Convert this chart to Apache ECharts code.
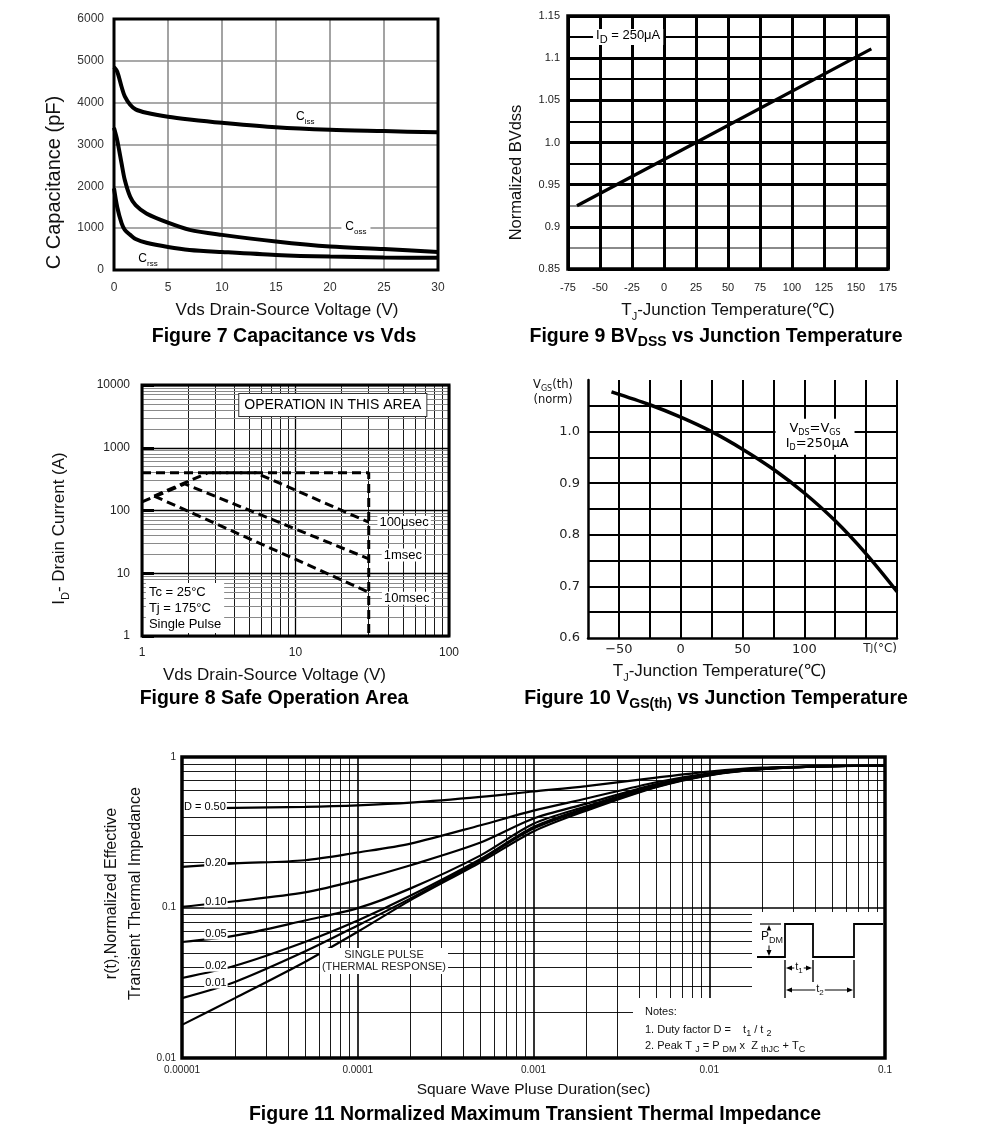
<!DOCTYPE html>
<html><head><meta charset="utf-8">
<script src="https://cdn.jsdelivr.net/npm/echarts@6/dist/echarts.min.js"></script>
<style>html,body{margin:0;padding:0;background:#fff}#c{width:991px;height:1139px}</style>
</head><body><div id="c"></div><script>
// ---------------- DATA ----------------
// Figure 7: Capacitance vs Vds
const capV = [0, 0.3, 0.7, 1, 1.5, 2, 3, 5, 7, 10, 15, 20, 25, 30];
const ciss = [4850, 4740, 4380, 4150, 3950, 3840, 3760, 3665, 3600, 3520, 3410, 3350, 3320, 3290];
const coss = [3400, 3100, 2550, 2150, 1750, 1550, 1350, 1130, 960, 840, 680, 560, 500, 430];
const crss = [1950, 1500, 1120, 960, 840, 740, 650, 550, 480, 430, 360, 320, 300, 290];
// Figure 9: BVdss vs Tj
const bvT = [-68, 25, 162];
const bvN = [0.925, 1.0, 1.111];
// Figure 8: Safe operating area
const soaLimitV = [1, 30, 30];
const soaLimitI = [400, 400, 1];
const soa100usV = [1.2, 2.7, 5.5, 30];
const soa100usI = [170, 400, 400, 65];
const soa1msV = [1, 1.9, 30];
const soa1msI = [137, 265, 17];
const soa10msV = [1.2, 30];
const soa10msI = [170, 5];
// Figure 10: Vgs(th) vs Tj
const vgsT = [-56, -25, 0, 25, 50, 75, 100, 125, 150, 175];
const vgsN = [1.077, 1.052, 1.028, 1.0, 0.966, 0.927, 0.881, 0.827, 0.763, 0.69];
// Figure 11: transient thermal impedance
const ztT = [1e-5, 2e-5, 5e-5, 1e-4, 2e-4, 5e-4, 1e-3, 2e-3, 5e-3, 1e-2, 2e-2, 5e-2, 1e-1];
const zD50 = [0.454, 0.459, 0.466, 0.477, 0.497, 0.543, 0.59, 0.64, 0.73, 0.80, 0.85, 0.87, 0.875];
const zD20 = [0.186, 0.196, 0.206, 0.232, 0.266, 0.352, 0.44, 0.53, 0.68, 0.78, 0.84, 0.87, 0.875];
const zD10 = [0.101, 0.110, 0.126, 0.152, 0.191, 0.27, 0.39, 0.49, 0.66, 0.77, 0.84, 0.87, 0.875];
const zD05 = [0.059, 0.065, 0.082, 0.099, 0.134, 0.222, 0.36, 0.47, 0.65, 0.77, 0.835, 0.87, 0.875];
const zD02 = [0.034, 0.041, 0.059, 0.082, 0.12, 0.21, 0.343, 0.46, 0.64, 0.76, 0.835, 0.87, 0.875];
const zD01 = [0.025, 0.032, 0.051, 0.076, 0.115, 0.206, 0.335, 0.45, 0.635, 0.76, 0.83, 0.87, 0.875];
const zSingle = [0.0166, 0.025, 0.0435, 0.069, 0.112, 0.20, 0.32, 0.44, 0.63, 0.755, 0.83, 0.87, 0.875];

// ---------------- LAYOUT / STYLE ----------------
const FONT = '"Liberation Sans", Arial, Helvetica, sans-serif';
const NARROW = '"Liberation Sans Narrow", "Liberation Sans", Arial, sans-serif';
const DJ = '"DejaVu Sans", sans-serif';
const L7 = {left:114, top:19, width:324, height:251};
const L9 = {left:568, top:16, width:320, height:253};
const L8 = {left:142, top:385, width:307, height:251};
const L10 = {left:588, top:380, width:309, height:258};
const L11 = {left:182, top:757, width:703, height:301};

const zip = (a, b) => a.map((v, i) => [v, b[i]]);
function richL(size, sub, color, family, weight) {
  family = family || FONT; weight = weight || 'normal'; color = color || '#111';
  return {
    n: {fontSize:size, fontFamily:family, fontWeight:weight, color:color, fill:color, verticalAlign:'top', lineHeight:size + 3},
    s: {fontSize:sub, fontFamily:family, fontWeight:weight, color:color, fill:color, verticalAlign:'bottom', lineHeight:sub}
  };
}
function logMinor(e0, e1) { const out = []; for (let e = e0; e < e1; e++) for (let m = 2; m <= 9; m++) out.push(m * Math.pow(10, e)); return out; }
const fmtLog = v => { const e = Math.round(Math.log10(v)); return e >= 0 ? String(Math.round(v)) : v.toFixed(-e); };

function lineS(xi, yi, xs, ys, extra) {
  return Object.assign({type:'line', xAxisIndex:xi, yAxisIndex:yi, data:zip(xs, ys), symbol:'none', showSymbol:false,
    silent:true, z:3, emphasis:{disabled:true}, lineStyle:{color:'#000', width:3}}, extra);
}
function textS(xi, yi, items) {
  return {type:'scatter', xAxisIndex:xi, yAxisIndex:yi, symbol:'circle', symbolSize:1, silent:true, z:6, emphasis:{disabled:true},
    itemStyle:{color:'rgba(255,255,255,0)', opacity:1},
    data: items.map(it => ({value: it.at, label: Object.assign({show:true, position:'inside', color:'#000', opacity:1, textBorderWidth:0, fontFamily:FONT}, it.label)}))};
}
function gridS(xi, yi, xs, ys, xStyle, yStyle) {
  return {type:'scatter', xAxisIndex:xi, yAxisIndex:yi, data:[], z:1, silent:true,
    markLine:{silent:true, z:1, precision:12, symbol:['none','none'], animation:false, label:{show:false}, emphasis:{disabled:true},
      lineStyle:{type:'solid'},
      data: xs.map(v => ({xAxis:v, lineStyle:xStyle})).concat(ys.map(v => ({yAxis:v, lineStyle:yStyle})))}};
}

const fig9YColors = ['#000', '#8a8a8a', '#000', '#8a8a8a', '#000', '#000', '#000', '#000', '#000', '#000', '#000', '#000', '#000'];
const capRich = {m:{fontSize:12, fontFamily:FONT, color:'#000', verticalAlign:'top', lineHeight:15}, s:{fontSize:8, fontFamily:FONT, color:'#000', verticalAlign:'bottom', lineHeight:8}};
const SM = {smooth:0.3};

const option = {
  animation:false,
  backgroundColor:'#fff',
  grid:[L7, L9, L8, L10, L11].map(g => Object.assign({outerBoundsMode:'none', containLabel:false, show:false}, g)),
  xAxis:[
    {gridIndex:0, type:'value', min:0, max:30, interval:5, axisLine:{show:false}, axisTick:{show:false},
      splitLine:{show:true, lineStyle:{color:'#8c8c8c', width:1.6}},
      axisLabel:{margin:12, fontSize:12, color:'#333', fontFamily:FONT},
      name:'Vds Drain-Source Voltage (V)', nameLocation:'middle', nameGap:32, nameMoveOverlap:false,
      nameTextStyle:{fontSize:17, color:'#111', fontFamily:FONT, padding:[0,0,0,22]}},
    {gridIndex:1, type:'value', min:-75, max:175, interval:25, axisLine:{show:false}, axisTick:{show:false},
      splitLine:{show:true, lineStyle:{color:'#000', width:3}},
      axisLabel:{margin:13, fontSize:11, color:'#222', fontFamily:FONT},
      name:'{n|T}{s|J}{n|-Junction Temperature(℃)}', nameLocation:'middle', nameGap:33, nameMoveOverlap:false,
      nameTextStyle:{rich:richL(17, 11)}},
    {gridIndex:2, type:'log', logBase:10, min:1, max:100, axisLine:{show:false}, axisTick:{show:false},
      splitLine:{show:true, lineStyle:{color:'#000', width:1.3}},
      axisLabel:{margin:11, fontSize:12, color:'#222', fontFamily:FONT, formatter:v => String(Math.round(v))},
      name:'Vds Drain-Source Voltage (V)', nameLocation:'middle', nameGap:31, nameMoveOverlap:false,
      nameTextStyle:{fontSize:17, color:'#111', fontFamily:FONT, padding:[0,42,0,0]}},
    {gridIndex:3, type:'value', min:-75, max:175, interval:25,
      axisLine:{show:true, onZero:false, lineStyle:{color:'#000', width:2.5}}, axisTick:{show:false},
      splitLine:{show:true, showMinLine:false, lineStyle:{color:'#000', width:2}},
      axisLabel:{margin:5, fontSize:13, color:'#222', fontFamily:DJ,
        formatter:v => { const r = Math.round(v); if (r === -50) return '−50'; if (r === 0 || r === 50 || r === 100) return String(r); if (r === 150) return '{p|T}{j|J}{t|(°C)}'; return ''; },
        rich:{p:{fontSize:12, fontFamily:DJ, color:'#222', padding:[0,0,0,28]}, j:{fontSize:9, fontFamily:DJ, color:'#222'}, t:{fontSize:12, fontFamily:DJ, color:'#222'}}},
      name:'{n|T}{s|J}{n|-Junction Temperature(℃)}', nameLocation:'middle', nameGap:25, nameMoveOverlap:false,
      nameTextStyle:{padding:[0,46,0,0], rich:richL(17, 11)}},
    {gridIndex:4, type:'log', logBase:10, min:1e-5, max:0.1, axisLine:{show:false}, axisTick:{show:false},
      splitLine:{show:true, lineStyle:{color:'#000', width:1.6}},
      axisLabel:{margin:7, fontSize:10, color:'#222', fontFamily:FONT, formatter:fmtLog},
      name:'Square Wave Pluse Duration(sec)', nameLocation:'middle', nameGap:24, nameMoveOverlap:false,
      nameTextStyle:{fontSize:15.5, color:'#111', fontFamily:FONT}}
  ],
  yAxis:[
    {gridIndex:0, type:'value', min:0, max:6000, interval:1000, axisLine:{show:false}, axisTick:{show:false},
      splitLine:{show:true, lineStyle:{color:'#8c8c8c', width:1.6}},
      axisLabel:{margin:10, fontSize:12, color:'#333', fontFamily:FONT, formatter:v => String(v)},
      name:'C Capacitance (pF)', nameLocation:'middle', nameGap:50, nameMoveOverlap:false,
      nameTextStyle:{fontSize:20, color:'#111', fontFamily:FONT, padding:[0,76,0,0]}},
    {gridIndex:1, type:'value', position:'left', min:0.85, max:1.15, interval:0.025, axisLine:{show:false}, axisTick:{show:false},
      splitLine:{show:true, lineStyle:{color:fig9YColors, width:2.2}},
      axisLabel:{margin:8, fontSize:11, color:'#222', fontFamily:FONT,
        formatter:v => ({850:'0.85', 900:'0.9', 950:'0.95', 1000:'1.0', 1050:'1.05', 1100:'1.1', 1150:'1.15'})[Math.round(v * 1000)] || ''},
      name:'Normalized BVdss', nameLocation:'middle', nameGap:43, nameMoveOverlap:false,
      nameTextStyle:{fontSize:16.5, color:'#111', fontFamily:FONT, padding:[0,60,0,0]}},
    {gridIndex:2, type:'log', logBase:10, min:1, max:10000, axisLine:{show:false},
      axisTick:{show:true, inside:true, length:12, lineStyle:{color:'#000', width:3}},
      splitLine:{show:true, lineStyle:{color:'#000', width:1.3}},
      axisLabel:{margin:12, fontSize:12, color:'#222', fontFamily:FONT, formatter:v => String(Math.round(v))},
      name:'{n|I}{s|D}{n|- Drain Current (A)}', nameLocation:'middle', nameGap:71, nameMoveOverlap:false,
      nameTextStyle:{padding:[0,36,0,0], rich:richL(17, 11)}},
    {gridIndex:3, type:'value', min:0.6, max:1.1, interval:0.05,
      axisLine:{show:true, onZero:false, lineStyle:{color:'#000', width:2.5}}, axisTick:{show:false},
      splitLine:{show:true, showMinLine:false, showMaxLine:false, lineStyle:{color:'#000', width:2}},
      axisLabel:{margin:8, fontSize:13, color:'#222', fontFamily:DJ,
        formatter:v => { const k = Math.round(v * 100); return (k % 10 === 0 && k <= 100) ? (k / 100).toFixed(1) : ''; }}},
    {gridIndex:4, type:'log', logBase:10, min:0.01, max:1, axisLine:{show:false}, axisTick:{show:false},
      splitLine:{show:true, lineStyle:{color:'#000', width:1.6}},
      axisLabel:{margin:6, fontSize:10, color:'#222', fontFamily:FONT, formatter:fmtLog},
      name:'r(t),Normalized Effective\nTransient Thermal Impedance', nameLocation:'middle', nameGap:34, nameMoveOverlap:false,
      nameTextStyle:{fontSize:16, lineHeight:24, color:'#111', fontFamily:FONT, padding:[0,0,0,28]}},
    {gridIndex:1, type:'value', position:'right', min:0.85, max:1.15, interval:0.05, axisLine:{show:false}, axisTick:{show:false},
      axisLabel:{show:false}, splitLine:{show:true, lineStyle:{color:'#000', width:3.2}}}
  ],
  series:[
    // Figure 7
    lineS(0, 0, capV, ciss, Object.assign({lineStyle:{color:'#000', width:4}}, SM)),
    lineS(0, 0, capV, coss, Object.assign({lineStyle:{color:'#000', width:4}}, SM)),
    lineS(0, 0, capV, crss, Object.assign({lineStyle:{color:'#000', width:4}}, SM)),
    textS(0, 0, [
      {at:[17.7, 3630], label:{formatter:'{m|C}{s|iss}', rich:capRich}},
      {at:[22.4, 1000], label:{formatter:'{m|C}{s|oss}', rich:capRich, backgroundColor:'#fff', padding:[1,4]}},
      {at:[3.15, 240], label:{formatter:'{m|C}{s|rss}', rich:capRich}}
    ]),
    // Figure 9
    lineS(1, 1, bvT, bvN, {lineStyle:{color:'#000', width:3.2}}),
    textS(1, 1, [
      {at:[-28, 1.125], label:{formatter:'{n|I}{s|D}{n| = 250μA}', rich:richL(13, 11, '#000'), backgroundColor:'#fff', padding:[0,3]}}
    ]),
    // Figure 8
    gridS(2, 2, logMinor(0, 2), logMinor(0, 4), {color:'#000', width:0.9, type:'solid'}, {color:'#8a8a8a', width:1, type:'solid'}),
    lineS(2, 2, soaLimitV, soaLimitI, {lineStyle:{color:'#000', width:3, type:[9, 5]}}),
    lineS(2, 2, soa100usV, soa100usI, {lineStyle:{color:'#000', width:3, type:[9, 5]}}),
    lineS(2, 2, soa1msV, soa1msI, {lineStyle:{color:'#000', width:3, type:[9, 5]}}),
    lineS(2, 2, soa10msV, soa10msI, {lineStyle:{color:'#000', width:3, type:[9, 5]}}),
    textS(2, 2, [
      {at:[51, 65], label:{formatter:'100μsec', fontSize:13, backgroundColor:'#fff', padding:[0,2]}},
      {at:[50, 19.5], label:{formatter:'1msec', fontSize:13, backgroundColor:'#fff', padding:[0,2]}},
      {at:[53, 4.0], label:{formatter:'10msec', fontSize:13, backgroundColor:'#fff', padding:[0,2]}},
      {at:[17.5, 4800], label:{formatter:'OPERATION IN THIS AREA', fontSize:14, backgroundColor:'#fff', borderColor:'#333', borderWidth:1, padding:[4,5]}},
      {at:[1.06, 2.8], label:{formatter:'Tc = 25°C\nTj = 175°C\nSingle Pulse', fontSize:13, lineHeight:16, align:'left', verticalAlign:'middle', backgroundColor:'#fff', padding:[1,3]}}
    ]),
    // Figure 10
    lineS(3, 3, vgsT, vgsN, Object.assign({lineStyle:{color:'#000', width:3.5}}, SM)),
    textS(3, 3, [
      {at:[108.7, 0.99], label:{formatter:'{n|V}{s|DS}{n|=V}{s|GS}\n{n| I}{s|D}{n|=250μA}',
        rich:{n:{fontSize:13, fontFamily:DJ, color:'#000', verticalAlign:'top', lineHeight:15}, s:{fontSize:8, fontFamily:DJ, color:'#000', verticalAlign:'bottom', lineHeight:8}},
        backgroundColor:'#fff', padding:[3,6]}}
    ]),
    // Figure 11
    gridS(4, 4, logMinor(-5, -1), logMinor(-2, 0), {color:'#000', width:0.9, type:'solid'}, {color:'#000', width:0.9, type:'solid'}),
    lineS(4, 4, ztT, zD50, Object.assign({lineStyle:{color:'#000', width:2.2}}, SM)),
    lineS(4, 4, ztT, zD20, Object.assign({lineStyle:{color:'#000', width:2.2}}, SM)),
    lineS(4, 4, ztT, zD10, Object.assign({lineStyle:{color:'#000', width:2.2}}, SM)),
    lineS(4, 4, ztT, zD05, Object.assign({lineStyle:{color:'#000', width:2.2}}, SM)),
    lineS(4, 4, ztT, zD02, Object.assign({lineStyle:{color:'#000', width:2.2}}, SM)),
    lineS(4, 4, ztT, zD01, Object.assign({lineStyle:{color:'#000', width:2.2}}, SM)),
    lineS(4, 4, ztT, zSingle, Object.assign({lineStyle:{color:'#000', width:2.2}}, SM)),
    textS(4, 4, [
      {at:[1.35e-5, 0.465], label:{formatter:'D = 0.50', fontSize:11, fontFamily:NARROW, backgroundColor:'#fff', padding:[0,1]}},
      {at:[1.56e-5, 0.198], label:{formatter:'0.20', fontSize:11, fontFamily:NARROW, backgroundColor:'#fff', padding:[0,1]}},
      {at:[1.56e-5, 0.109], label:{formatter:'0.10', fontSize:11, fontFamily:NARROW, backgroundColor:'#fff', padding:[0,1]}},
      {at:[1.56e-5, 0.0667], label:{formatter:'0.05', fontSize:11, fontFamily:NARROW, backgroundColor:'#fff', padding:[0,1]}},
      {at:[1.56e-5, 0.0408], label:{formatter:'0.02', fontSize:11, fontFamily:NARROW, backgroundColor:'#fff', padding:[0,1]}},
      {at:[1.56e-5, 0.0315], label:{formatter:'0.01', fontSize:11, fontFamily:NARROW, backgroundColor:'#fff', padding:[0,1]}},
      {at:[1.41e-4, 0.0441], label:{formatter:'SINGLE PULSE\n(THERMAL RESPONSE)', fontSize:11, lineHeight:12, fontFamily:NARROW, color:'#222', backgroundColor:'#fff', padding:[1,2]}}
    ])
  ],
  graphic:{elements:[]}
};

// ---------------- GRAPHIC DECORATIONS ----------------
const G = option.graphic.elements;
function border(L, w) { G.push({type:'rect', z:100, silent:true, shape:{x:L.left, y:L.top, width:L.width, height:L.height}, style:{fill:null, stroke:'#000', lineWidth:w}}); }
border(L7, 3); border(L9, 3.5); border(L8, 3); border(L11, 3.5);

// white panels in figure 11 (inset + notes)
G.push({type:'rect', z:10, silent:true, shape:{x:752, y:912, width:L11.left + L11.width - 752, height:L11.top + L11.height - 912}, style:{fill:'#fff', stroke:null}});
G.push({type:'rect', z:10, silent:true, shape:{x:633, y:998, width:L11.left + L11.width - 633, height:L11.top + L11.height - 998}, style:{fill:'#fff', stroke:null}});

function gline(x1, y1, x2, y2, w) { G.push({type:'line', z:20, silent:true, shape:{x1, y1, x2, y2}, style:{stroke:'#000', lineWidth:w || 1.2}}); }
function arrow(x, y, dir) {
  const s = 6, h = 2.5; let pts;
  if (dir === 'left') pts = [[x, y], [x + s, y - h], [x + s, y + h]];
  else if (dir === 'right') pts = [[x, y], [x - s, y - h], [x - s, y + h]];
  else if (dir === 'up') pts = [[x, y], [x - h, y + s], [x + h, y + s]];
  else pts = [[x, y], [x - h, y - s], [x + h, y - s]];
  G.push({type:'polygon', z:20, silent:true, shape:{points:pts}, style:{fill:'#000', stroke:null}});
}
function gtext(x, y, text, rich, extra) {
  G.push({type:'text', z:30, silent:true, x, y, style:Object.assign({text, rich, align:'center', verticalAlign:'middle', textAlign:'center', textVerticalAlign:'middle'}, extra || {})});
}
// pulse waveform
G.push({type:'polyline', z:20, silent:true, shape:{points:[[757,957],[785,957],[785,924],[813,924],[813,957],[854,957],[854,924],[883,924]]}, style:{stroke:'#000', lineWidth:1.8, fill:null}});
gline(760, 924, 781, 924, 1.2);
gline(769, 927, 769, 954, 1);
arrow(769, 925, 'up'); arrow(769, 956, 'down');
gline(785, 960, 785, 998, 1.4); gline(813, 960, 813, 982, 1.4); gline(854, 960, 854, 998, 1.4);
gline(788, 968, 810, 968, 1); arrow(786, 968, 'left'); arrow(812, 968, 'right');
gline(788, 990, 851, 990, 1); arrow(786, 990, 'left'); arrow(853, 990, 'right');
const rNarrow = richL(12, 9, '#111', NARROW);
gtext(772, 938, '{n|P}{s|DM}', rNarrow, {backgroundColor:'#fff', padding:[0,1]});
gtext(799, 968, '{n|t}{s|1}', richL(11, 8, '#111', NARROW), {backgroundColor:'#fff', padding:[0,1]});
gtext(820, 990, '{n|t}{s|2}', richL(11, 8, '#111', NARROW), {backgroundColor:'#fff', padding:[0,1]});
// notes
const rNotes = richL(11, 9, '#111', NARROW);
gtext(645, 1013, '{n|Notes:}', rNotes, {align:'left', textAlign:'left'});
gtext(645, 1031, '{n|1. Duty factor D =    t}{s|1}{n| / t }{s|2}', rNotes, {align:'left', textAlign:'left'});
gtext(645, 1047, '{n|2. Peak T }{s|J}{n| = P }{s|DM}{n| x  Z }{s|thJC}{n| + T}{s|C}', rNotes, {align:'left', textAlign:'left'});

// Figure 10 corner label
const rDJ = richL(11.5, 8, '#111', DJ);
gtext(553, 386, '{n|V}{s|GS}{n|(th)}', rDJ);
gtext(553, 401, '{n|(norm)}', rDJ);

// Figure captions
const rTitle = richL(19.5, 14, '#000', FONT, 'bold');
gtext(284, 338, '{n|Figure 7 Capacitance vs Vds}', rTitle);
gtext(716, 338, '{n|Figure 9 BV}{s|DSS}{n| vs Junction Temperature}', rTitle);
gtext(274, 700, '{n|Figure 8 Safe Operation Area}', rTitle);
gtext(716, 700, '{n|Figure 10 V}{s|GS(th)}{n| vs Junction Temperature}', rTitle);
gtext(535, 1116, '{n|Figure 11 Normalized Maximum Transient Thermal Impedance}', rTitle);

const chart = echarts.init(document.getElementById('c'), null, {renderer:'canvas', width:991, height:1139});
chart.setOption(option);
</script></body></html>
